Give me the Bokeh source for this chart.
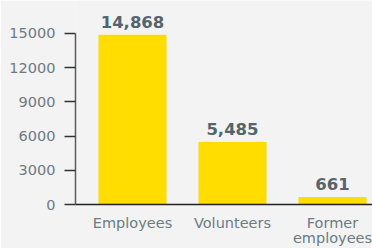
from bokeh.plotting import figure
from bokeh.models import Range1d, FixedTicker, ColumnDataSource, LabelSet
from bokeh.core.properties import value
from bokeh.embed import file_html
from bokeh.resources import INLINE

categories = ["Employees", "Volunteers", "Former\nemployees"]
values = [14868, 5485, 661]
value_labels = ["14,868", "5,485", "661"]
y_ticks = [0, 3000, 6000, 9000, 12000, 15000]

xpos = [i + 0.5 for i in range(len(categories))]

src = ColumnDataSource(dict(x=xpos, top=values, lab=value_labels))

BG = "#f2f3f2"
FONT = "DejaVu Sans"
p = figure(width=372, height=248, output_backend="svg", toolbar_location=None,
           x_range=Range1d(-0.07, 2.9), y_range=Range1d(0, 17877),
           background_fill_color=BG, border_fill_color=BG,
           min_border_left=75, min_border_right=0, min_border_top=0, min_border_bottom=43)
p.outline_line_color = None
p.grid.visible = False

p.vbar(x="x", top="top", width=0.68, bottom=0, source=src, color="#FFDD00", line_color=None)

labels = LabelSet(x="x", y="top", text="lab", source=src, text_align="center",
                  text_baseline="alphabetic", y_offset=7, text_font=value(FONT),
                  text_font_style="bold", text_font_size="16.5px", text_color="#56646c")
p.add_layout(labels)

p.xaxis.ticker = FixedTicker(ticks=xpos)
p.xaxis.major_label_overrides = {x: c for x, c in zip(xpos, categories)}
p.xaxis.major_tick_line_color = None
p.xaxis.major_tick_out = 0
p.xaxis.major_tick_in = 0
p.xaxis.minor_tick_line_color = None
p.xaxis.axis_line_color = "#222222"
p.xaxis.axis_line_width = 1.5
p.xaxis.major_label_text_font = FONT
p.xaxis.major_label_text_font_size = "14.5px"
p.xaxis.major_label_text_line_height = 0.95
p.xaxis.major_label_text_color = "#6d7b82"
p.xaxis.major_label_standoff = 10

p.yaxis.ticker = FixedTicker(ticks=y_ticks)
p.yaxis.bounds = (0, 15000)
p.yaxis.minor_tick_line_color = None
p.yaxis.major_tick_in = 0
p.yaxis.major_tick_out = 11
p.yaxis.major_tick_line_color = "#333333"
p.yaxis.major_tick_line_width = 1.5
p.yaxis.axis_line_color = "#5a5a5a"
p.yaxis.axis_line_width = 1.5
p.yaxis.major_label_text_font = FONT
p.yaxis.major_label_text_font_size = "14.5px"
p.yaxis.major_label_text_color = "#6d7b82"
p.yaxis.major_label_standoff = 9

open("out.html", "w").write(file_html(p, INLINE))
